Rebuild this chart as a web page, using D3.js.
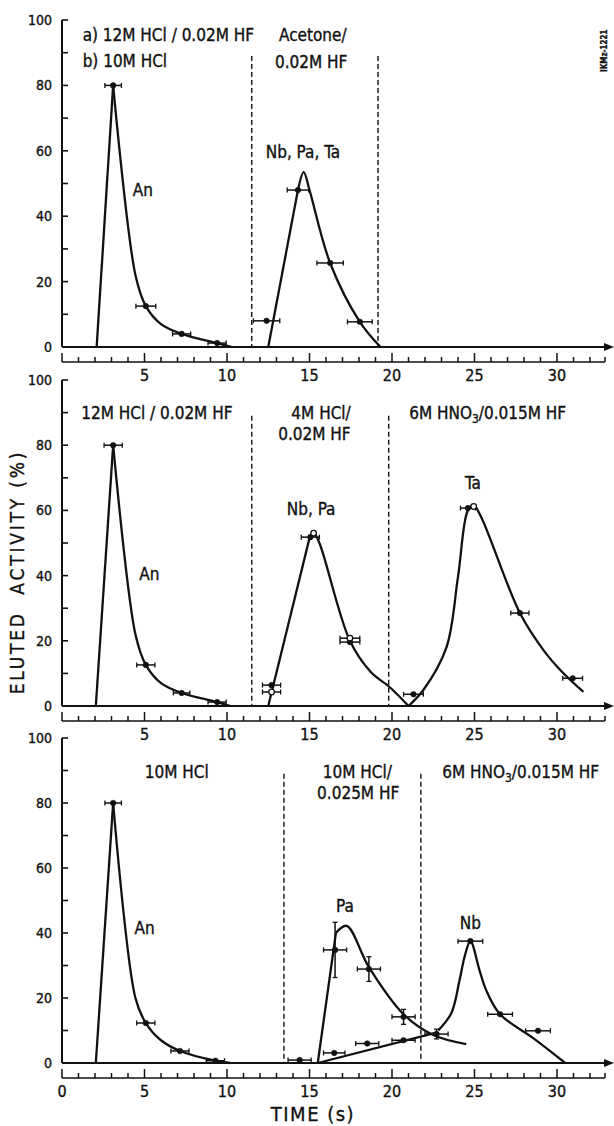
<!DOCTYPE html>
<html>
<head>
<meta charset="utf-8">
<script src="https://cdn.jsdelivr.net/npm/d3@7"></script>
<style>
	body { margin: 0; background: white; }
	svg text { font-family: "Liberation Sans Narrow", "DejaVu Sans Condensed", "Roboto", sans-serif; fill: #111; stroke: #111; stroke-width: 0.35; }
</style>
</head>
<body>
<svg id="chart" width="614" height="1126"></svg>
<script>

// Time axis ticks and labels.
const minorTicks = d3.range(0, 33);
const timeLabelsTop = [5, 10, 15, 20, 25, 30];
const timeLabelsBottom = [0, 5, 10, 15, 20, 25, 30];
const activityTicks = d3.range(0, 101, 10);
const activityLabels = [0, 20, 40, 60, 80, 100];

// Panel 1: a) 12M HCl/0.02M HF  b) 10M HCl, then acetone.
// Points are [time, activity, time error, activity error].
const p1Points = [
	[3.1, 80, 0.5], [5.08, 12.5, 0.6], [7.25, 4, 0.55], [9.4, 1.2, 0.55],
	[12.4, 8, 0.8], [14.3, 48, 0.65], [16.25, 25.7, 0.8], [18.05, 7.7, 0.75]
];
const p1Open = [];
const p1Curves = [
	[[2.1, 0], [3.1, 80]],
	[[3.1, 80], [4.45, 22], [5.08, 12.5], [6.0, 7], [7.25, 4], [9.4, 1.2], [10.3, 0]],
	[[12.5, 0], [14.3, 48]],
	[[14.3, 48], [14.65, 53.5], [15.0, 48], [16.25, 25.7], [18.05, 7.7], [19.3, 0]]
];
const p1Dashes = [11.5, 19.15];

// Panel 2: 12M HCl/0.02M HF, 4M HCl/0.02M HF, 6M HNO3/0.015M HF.
const p2Points = [
	[3.1, 80, 0.55], [5.08, 12.6, 0.55], [7.25, 4, 0.5], [9.4, 1.2, 0.55],
	[12.7, 6.4, 0.55], [15.05, 51.8, 0.55], [17.45, 19.6, 0.6], [21.3, 3.6, 0.6],
	[24.6, 60.7, 0.45], [27.75, 28.5, 0.55], [30.95, 8.5, 0.6]
];
const p2Open = [
	[12.7, 4.3, 0.55], [15.25, 53, 0], [17.45, 20.8, 0.6], [24.95, 61.2, 0]
];
const p2Curves = [
	[[2.05, 0], [3.1, 80]],
	[[3.1, 80], [4.45, 22], [5.08, 12.6], [6.0, 7], [7.25, 4], [9.4, 1.2], [10.2, 0]],
	[[12.5, 0], [15.0, 51.5]],
	[[15.0, 51.5], [15.25, 53.2], [15.6, 50], [17.45, 20], [18.7, 10.5], [19.9, 5.6], [21.0, 0]],
	[[21.0, 0], [21.9, 4.9], [23.3, 18], [24.0, 39.6], [24.6, 60], [24.95, 61.5], [25.4, 58],
	 [27.75, 28.5], [29.2, 17], [30.3, 10.5], [31.6, 4.3]]
];
const p2Dashes = [11.5, 19.8];

// Panel 3: 10M HCl, 10M HCl/0.025M HF, 6M HNO3/0.015M HF.
const p3Points = [
	[3.1, 80, 0.5], [5.08, 12.3, 0.55], [7.15, 3.7, 0.55], [9.3, 0.7, 0.55],
	[14.4, 0.9, 0.7], [16.5, 3.1, 0.65], [18.5, 6, 0.7], [20.7, 7, 0.7],
	[22.7, 8.9, 0.7, 1.5],
	[16.55, 34.8, 0.7, 8.5], [18.6, 28.9, 0.7, 3.8], [20.7, 14.2, 0.7, 2.3],
	[24.75, 37.5, 0.75], [26.55, 15, 0.75], [28.85, 9.9, 0.75]
];
const p3Open = [];
const p3Curves = [
	[[2.05, 0], [3.1, 80]],
	[[3.1, 80], [4.45, 20], [5.08, 12.3], [6.0, 7], [7.15, 3.7], [9.3, 0.7], [10.2, 0]],
	[[15.5, 0], [16.6, 40]],
	[[16.6, 40], [17.25, 42.2], [18.6, 29.5], [20.7, 15], [22.5, 8.6], [24.5, 5.8]],
	[[15.5, 0], [22.8, 9.5]],
	[[22.8, 10], [23.6, 15.4], [24.1, 25.6], [24.4, 32.7], [24.75, 37.5], [25.3, 28.6],
	 [25.7, 22.5], [26.55, 15], [28.6, 7.5], [30.5, 0]]
];
const p3Dashes = [13.45, 21.75];

// Labels: [text, time, activity, anchor]. A "_" marks the subscript.
const p1Labels = [
	["a) 12M HCl / 0.02M HF", 1.25, 95.5, "start"],
	["b) 10M HCl", 1.25, 87.5, "start"],
	["Acetone/", 15.2, 95.5, "middle"],
	["0.02M HF", 15.1, 87, "middle"],
	["Nb, Pa, Ta", 14.6, 59.5, "middle"],
	["An", 4.9, 48, "middle"]
];
const p2Labels = [
	["12M HCl / 0.02M HF", 5.75, 90, "middle"],
	["4M HCl/", 15.7, 90, "middle"],
	["0.02M HF", 15.3, 83.3, "middle"],
	["6M HNO_3/0.015M HF", 25.8, 90, "middle"],
	["Nb, Pa", 15.1, 60.5, "middle"],
	["Ta", 24.9, 68.5, "middle"],
	["An", 5.3, 40.5, "middle"]
];
const p3Labels = [
	["10M HCl", 6.95, 89.5, "middle"],
	["10M HCl/", 17.9, 89.5, "middle"],
	["0.025M HF", 17.95, 83.2, "middle"],
	["6M HNO_3/0.015M HF", 27.8, 89.5, "middle"],
	["Pa", 17.15, 48.2, "middle"],
	["Nb", 24.75, 43, "middle"],
	["An", 5.0, 41.5, "middle"]
];


// Layout of the three stacked panels (pixel space).
const panels = [
	{top: 20, bottom: 347, points: p1Points, open: p1Open, curves: p1Curves, dashes: p1Dashes, labels: p1Labels, ticklabels: timeLabelsTop},
	{top: 380, bottom: 706, points: p2Points, open: p2Open, curves: p2Curves, dashes: p2Dashes, labels: p2Labels, ticklabels: timeLabelsTop},
	{top: 738, bottom: 1063, points: p3Points, open: p3Open, curves: p3Curves, dashes: p3Dashes, labels: p3Labels, ticklabels: timeLabelsBottom}
];

const svg = d3.select("#chart");

// Shared time scale: 16.5 px per second starting at x=62.
const x = d3.scaleLinear().domain([0, 30]).range([62, 557]);
const tEnd = x.invert(605);


function drawPanel(p){
	let g = svg.append("g");
	let y = d3.scaleLinear().domain([0, 100]).range([p.bottom, p.top]);
	
	
	// Vertical activity axis, ticks point into the plot.
	g.append("line")
		.attr("x1", x(0)).attr("x2", x(0))
		.attr("y1", y(100)).attr("y2", y(0))
		.attr("stroke", "#111").attr("stroke-width", 2);
	
	g.selectAll("line.ytick")
	  .data(activityTicks)
	  .enter()
	  .append("line")
		.attr("class", "ytick")
		.attr("x1", x(0)).attr("x2", x(0) + 6)
		.attr("y1", d=>y(d)).attr("y2", d=>y(d))
		.attr("stroke", "#111").attr("stroke-width", 1.6);
	
	g.selectAll("text.ylabel")
	  .data(activityLabels)
	  .enter()
	  .append("text")
		.attr("class", "ylabel")
		.attr("x", 52)
		.attr("y", d=>y(d))
		.attr("dy", "0.35em")
		.attr("text-anchor", "end")
		.attr("font-size", 14)
		.text(d=>d);
	
	
	// Time axis with arrow head.
	g.append("line")
		.attr("x1", x(0)).attr("x2", 606)
		.attr("y1", y(0)).attr("y2", y(0))
		.attr("stroke", "#111").attr("stroke-width", 2);
	
	g.append("path")
		.attr("d", `M${604},${y(0) - 4}L${614},${y(0)}L${604},${y(0) + 4}Z`)
		.attr("fill", "#111");
	
	
	// Ruler below the axis carrying the second ticks.
	let ry = y(0) + 15;
	g.append("line")
		.attr("x1", x(0)).attr("x2", x(tEnd))
		.attr("y1", ry).attr("y2", ry)
		.attr("stroke", "#111").attr("stroke-width", 1.6);
	
	g.selectAll("line.xtick")
	  .data(minorTicks.concat([tEnd]))
	  .enter()
	  .append("line")
		.attr("class", "xtick")
		.attr("x1", d=>x(d)).attr("x2", d=>x(d))
		.attr("y1", ry)
		.attr("y2", d=>(d % 5 == 0) ? ry - 9 : ry - 5)
		.attr("stroke", "#111").attr("stroke-width", 1.5);
	
	g.selectAll("text.xlabel")
	  .data(p.ticklabels)
	  .enter()
	  .append("text")
		.attr("class", "xlabel")
		.attr("x", d=>x(d))
		.attr("y", ry + 13)
		.attr("dy", "0.35em")
		.attr("text-anchor", "middle")
		.attr("font-size", 16)
		.text(d=>d);
	
	
	// Dashed eluent changes.
	g.selectAll("line.change")
	  .data(p.dashes)
	  .enter()
	  .append("line")
		.attr("class", "change")
		.attr("x1", d=>x(d)).attr("x2", d=>x(d))
		.attr("y1", y(89)).attr("y2", y(0))
		.attr("stroke", "#111").attr("stroke-width", 1.4)
		.attr("stroke-dasharray", "5,3");
	
	
	// Elution curves.
	let line = d3.line()
	  .x(d=>x(d[0]))
	  .y(d=>y(d[1]))
	  .curve(d3.curveCatmullRom.alpha(0.5));
	
	g.selectAll("path.curve")
	  .data(p.curves)
	  .enter()
	  .append("path")
		.attr("class", "curve")
		.attr("d", line)
		.attr("fill", "none")
		.attr("stroke", "#111")
		.attr("stroke-width", 2.3)
		.attr("stroke-linejoin", "round");
	
	
	// Measured points with error bars.
	let all = p.points.map(d=>({d: d, open: false}))
	  .concat(p.open.map(d=>({d: d, open: true})));
	
	all.forEach(m=>{
		let [t, v, dt, dv] = m.d;
		let cx = x(t), cy = y(v);
		
		if(dt){
			g.append("line")
				.attr("x1", x(t - dt)).attr("x2", x(t + dt))
				.attr("y1", cy).attr("y2", cy)
				.attr("stroke", "#111").attr("stroke-width", 1.5);
			[t - dt, t + dt].forEach(e=>{
				g.append("line")
					.attr("x1", x(e)).attr("x2", x(e))
					.attr("y1", cy - 2.5).attr("y2", cy + 2.5)
					.attr("stroke", "#111").attr("stroke-width", 1.3);
			}); // forEach
		} // if
		
		if(dv){
			g.append("line")
				.attr("x1", cx).attr("x2", cx)
				.attr("y1", y(v - dv)).attr("y2", y(v + dv))
				.attr("stroke", "#111").attr("stroke-width", 1.5);
			[v - dv, v + dv].forEach(e=>{
				g.append("line")
					.attr("x1", cx - 2.5).attr("x2", cx + 2.5)
					.attr("y1", y(e)).attr("y2", y(e))
					.attr("stroke", "#111").attr("stroke-width", 1.3);
			}); // forEach
		} // if
		
		g.append("circle")
			.attr("cx", cx).attr("cy", cy)
			.attr("r", m.open ? 2.8 : 2.8)
			.attr("fill", m.open ? "white" : "#111")
			.attr("stroke", "#111")
			.attr("stroke-width", m.open ? 1.3 : 0.5);
	}); // forEach
	
	
	// Eluent and element labels.
	p.labels.forEach(l=>{
		let [txt, t, v, anchor] = l;
		let text = g.append("text")
			.attr("x", x(t))
			.attr("y", y(v))
			.attr("dy", "0.35em")
			.attr("text-anchor", anchor)
			.attr("font-size", 17);
		
		let parts = txt.split("_");
		if(parts.length > 1){
			text.append("tspan").text(parts[0]);
			text.append("tspan")
				.attr("dy", 4)
				.attr("font-size", 12)
				.text(parts[1].charAt(0));
			text.append("tspan")
				.attr("dy", -4)
				.text(parts[1].slice(1));
		} else {
			text.text(txt);
		} // if
	}); // forEach
	
} // drawPanel


panels.forEach(drawPanel);


// Axis titles.
svg.append("text")
	.attr("transform", "translate(24,572) rotate(-90)")
	.attr("text-anchor", "middle")
	.attr("font-size", 19)
	.attr("letter-spacing", 2.8)
	.attr("xml:space", "preserve")
	.text("ELUTED  ACTIVITY (%)");

svg.append("text")
	.attr("x", 313)
	.attr("y", 1114)
	.attr("dy", "0.35em")
	.attr("text-anchor", "middle")
	.attr("font-size", 20)
	.attr("letter-spacing", 1.5)
	.attr("xml:space", "preserve")
	.text("TIME (s)");

// Figure code in the corner.
svg.append("text")
	.attr("transform", "translate(607,72) rotate(-90)")
	.attr("text-anchor", "start")
	.attr("font-size", 8)
	.attr("font-weight", "bold")
	.attr("stroke-width", 0)
	.text("IKMz-1221");

</script>
</body>
</html>
